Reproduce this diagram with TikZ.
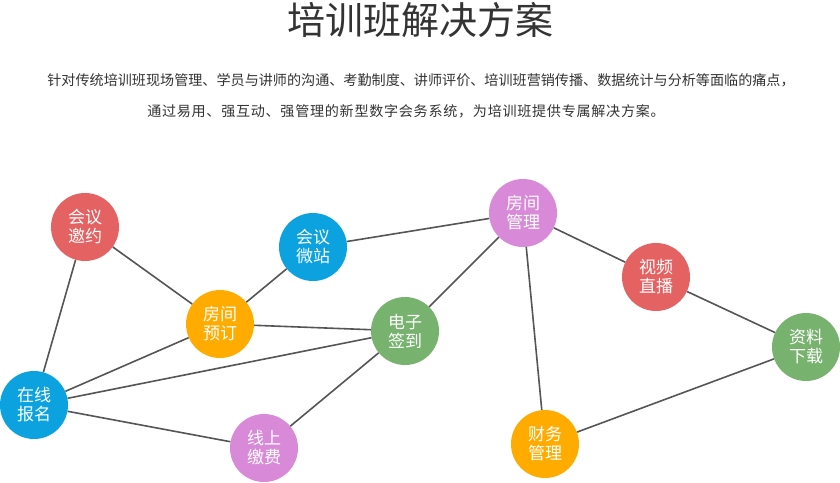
\documentclass[tikz,border=0pt]{standalone}
\usepackage{fontspec}
\newfontfamily\cjk{Noto Sans CJK SC}
\definecolor{ballred}{RGB}{228,98,98}
\definecolor{ballblue}{RGB}{12,162,224}
\definecolor{ballorange}{RGB}{255,171,0}
\definecolor{ballgreen}{RGB}{119,178,110}
\definecolor{ballpink}{RGB}{216,138,216}
\definecolor{linkgray}{RGB}{85,85,85}
\definecolor{textgray}{RGB}{51,51,51}
\begin{document}
\begin{tikzpicture}[
    x=1pt, y=-1pt,
    % estilos de los circulos
    ball/.style={circle, minimum size=68pt, inner sep=0pt, text=white, align=center,
                 font=\cjk\fontsize{17}{19}\selectfont},
    redball/.style={ball, fill=ballred},
    blueball/.style={ball, fill=ballblue},
    orangeball/.style={ball, fill=ballorange},
    greenball/.style={ball, fill=ballgreen},
    pinkball/.style={ball, fill=ballpink},
    % estilos de los textos y lineas
    link/.style={draw=linkgray, line width=1.6pt},
    titletext/.style={font=\cjk\fontsize{38}{40}\selectfont, text=textgray},
    bodytext/.style={font=\cjk\fontsize{14.1}{16}\selectfont, text=textgray}
]
\useasboundingbox (0,0) rectangle (840,482);

% --- TITULO ---
\node[titletext] (title) at (420, 20) {培训班解决方案};
\node[bodytext] (line1) at (421, 80) {针对传统培训班现场管理、学员与讲师的沟通、考勤制度、讲师评价、培训班营销传播、数据统计与分析等面临的痛点，};
\node[bodytext] (line2) at (406, 111) {\addfontfeatures{LetterSpace=5}通过易用、强互动、强管理的新型数字会务系统，为培训班提供专属解决方案。};

% --- CIRCULOS ---
\node[redball] (invite) at (85, 227) {会议\\邀约};
\node[blueball] (site) at (313, 247) {会议\\微站};
\node[orangeball] (booking) at (220, 324) {房间\\预订};
\node[greenball] (checkin) at (405, 331) {电子\\签到};
\node[blueball] (signup) at (34, 405) {在线\\报名};
\node[pinkball] (payment) at (264, 448) {线上\\缴费};
\node[pinkball] (rooms) at (523, 213) {房间\\管理};
\node[redball] (live) at (656, 277) {视频\\直播};
\node[greenball] (files) at (806, 347) {资料\\下载};
\node[orangeball] (finance) at (545, 444) {财务\\管理};

% --- LINEAS ---
\draw[link] (invite) -- (signup);
\draw[link] (invite) -- (booking);
\draw[link] (booking) -- (site);
\draw[link] (booking) -- (checkin);
\draw[link] (booking) -- (signup);
\draw[link] (signup) -- (checkin);
\draw[link] (signup) -- (payment);
\draw[link] (payment) -- (checkin);
\draw[link] (site) -- (rooms);
\draw[link] (checkin) -- (rooms);
\draw[link] (rooms) -- (live);
\draw[link] (rooms) -- (finance);
\draw[link] (live) -- (files);
\draw[link] (files) -- (finance);

\end{tikzpicture}
\end{document}
